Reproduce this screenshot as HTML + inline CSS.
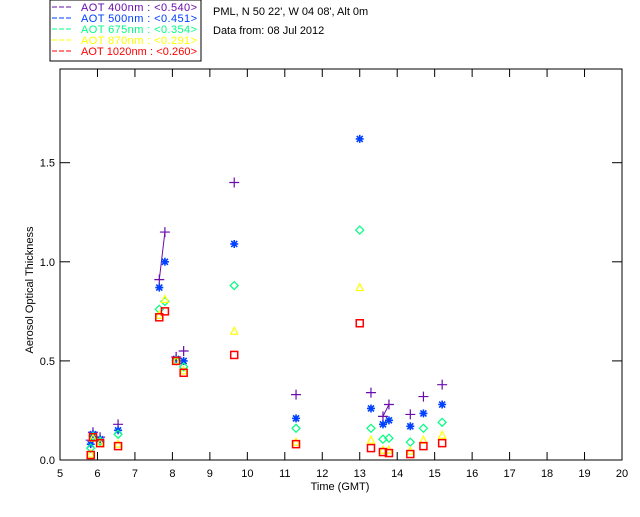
<!DOCTYPE html>
<html><head><meta charset="utf-8"><style>
body{margin:0;background:#fff;font-family:"Liberation Sans",sans-serif}
svg text{font-family:"Liberation Sans",sans-serif}
</style></head><body>
<svg id="c" width="640" height="512" xmlns="http://www.w3.org/2000/svg">
<rect x="50" y="0" width="151" height="61" fill="#fff" stroke="#000"/>
<g id="legend"></g>
<text x="213" y="15" font-size="11">PML, N 50 22', W 04 08', Alt 0m</text>
<text x="213" y="34" font-size="11">Data from: 08 Jul 2012</text>
<g id="axes"></g>
<g id="marks"></g>
<text x="340" y="490" font-size="11" text-anchor="middle">Time (GMT)</text>
<text transform="translate(33,290) rotate(-90)" font-size="11" text-anchor="middle">Aerosol Optical Thickness</text>
</svg>
<script>
const times=[5.82,5.88,6.07,6.55,7.65,7.8,8.1,8.3,9.65,11.3,13.0,13.3,13.62,13.78,14.35,14.7,15.2];
const aot400=[0.10,0.14,0.115,0.18,0.91,1.15,0.52,0.55,1.40,0.33,null,0.34,0.22,0.28,0.23,0.32,0.38];
const aot500=[0.08,0.13,0.105,0.15,0.87,1.0,0.51,0.50,1.09,0.21,1.62,0.26,0.18,0.20,0.17,0.235,0.28];
const aot675=[0.06,0.12,0.095,0.13,0.76,0.80,0.50,0.47,0.88,0.16,1.16,0.16,0.105,0.11,0.09,0.16,0.19];
const aot870=[0.03,0.11,0.085,0.08,0.73,0.81,0.50,0.45,0.65,0.09,0.87,0.10,0.05,0.05,0.045,0.10,0.125];
const aot1020=[0.025,0.115,0.085,0.07,0.72,0.75,0.50,0.44,0.53,0.08,0.69,0.06,0.04,0.035,0.03,0.07,0.085];
const xTicks=[5,6,7,8,9,10,11,12,13,14,15,16,17,18,19,20];
const yTicks=[0,0.5,1.0,1.5];
const yTickLabels=["0.0","0.5","1.0","1.5"];
const legendLabels=["AOT  400nm : <0.540>","AOT  500nm : <0.451>","AOT  675nm : <0.354>","AOT  870nm : <0.291>","AOT 1020nm : <0.260>"];
const colors=["#6a0dad","#0040ff","#00ff80","#ffff00","#ff0000"];
const markers=["plus","star","diamond","triangle","square"];
const series=[aot400,aot500,aot675,aot870,aot1020];
const NS="http://www.w3.org/2000/svg";
const TOP=69,BOT=460,LEFT=60,RIGHT=622;
const X=t=>LEFT+(t-5)*(RIGHT-LEFT)/15, Y=v=>BOT-v*198.2;
function mk(tag,attrs,parent){const e=document.createElementNS(NS,tag);for(const k in attrs)e.setAttribute(k,attrs[k]);parent.appendChild(e);return e;}
const ax=document.getElementById('axes'),mg=document.getElementById('marks'),lg=document.getElementById('legend');
let l=mk('rect',{x:LEFT,y:TOP,width:RIGHT-LEFT,height:BOT-TOP,fill:'none',stroke:'#000'},ax);


xTicks.forEach(t=>{const x=X(t);
 let k=mk('line',{x1:x,y1:BOT,x2:x,y2:BOT-8,stroke:'#000'},ax);
 
 
 k=mk('line',{x1:x,y1:TOP,x2:x,y2:TOP+8,stroke:'#000'},ax);
 
 
 let tx=mk('text',{x:x,y:477,'font-size':11,'text-anchor':'middle'},ax);tx.textContent=t;
 
 
});
yTicks.forEach((v,i)=>{const y=Y(v);
 let k=mk('line',{x1:LEFT,y1:y,x2:LEFT+10,y2:y,stroke:'#000'},ax);
 
 
 k=mk('line',{x1:RIGHT,y1:y,x2:RIGHT-10,y2:y,stroke:'#000'},ax);
 
 
 let tx=mk('text',{x:55,y:y+4,'font-size':11,'text-anchor':'end'},ax);tx.textContent=yTickLabels[i];
 
 
});
function marker(type,x,y,c){const g=mk('g',{stroke:c,fill:'none','stroke-width':1.2},mg);
 if(type==='plus'){mk('path',{d:`M${x-5} ${y}H${x+5}M${x} ${y-5}V${y+5}`},g);}
 else if(type==='star'){mk('path',{d:`M${x-4} ${y}H${x+4}M${x} ${y-4}V${y+4}M${x-3} ${y-3}L${x+3} ${y+3}M${x-3} ${y+3}L${x+3} ${y-3}`,'stroke-width':1.6},g);}
 else if(type==='diamond'){mk('path',{d:`M${x} ${y-4}L${x+4} ${y}L${x} ${y+4}L${x-4} ${y}Z`},g);}
 else if(type==='triangle'){mk('path',{d:`M${x} ${y-4}L${x+3.5} ${y+3}L${x-3.5} ${y+3}Z`},g);}
 else {mk('rect',{x:x-3.5,y:y-3.5,width:7,height:7,'stroke-width':1.5},g);}
 return g;}
series.forEach((s,si)=>{
 if(si===0){for(let i=1;i<s.length;i++){if(s[i]==null||s[i-1]==null)continue;if(times[i]-times[i-1]<0.18){
  let ln=mk('line',{x1:X(times[i-1]),y1:Y(s[i-1]),x2:X(times[i]),y2:Y(s[i]),stroke:colors[si]},mg);
  
  }}}
 s.forEach((v,i)=>{if(v==null||Y(v)<TOP)return;const g=marker(markers[si],X(times[i]),Y(v),colors[si]);
  
  });
});
legendLabels.forEach((t,i)=>{const y=11+i*11;
 let ln=mk('line',{x1:52,y1:y-4,x2:73,y2:y-4,stroke:colors[i],'stroke-dasharray':'5,2'},lg);
 
 
 let tx=mk('text',{x:81,y:y,'font-size':11,fill:colors[i],'xml:space':'preserve',textLength:116,lengthAdjust:'spacing'},lg);tx.textContent=t;
 
 
});
</script>
</body></html>
